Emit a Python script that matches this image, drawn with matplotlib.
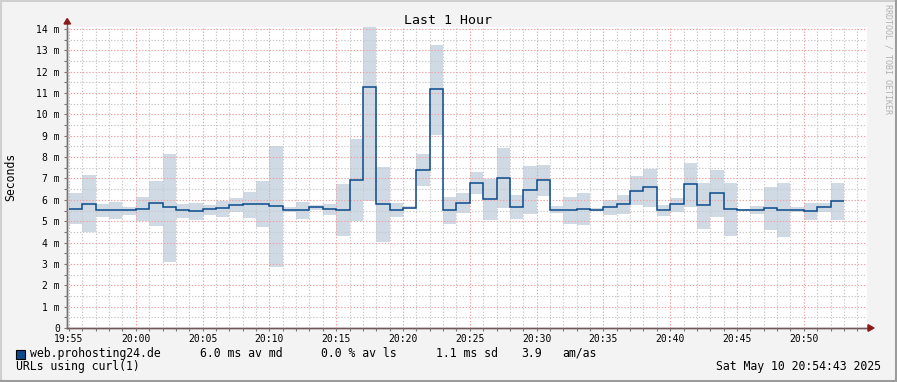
import numpy as np
import matplotlib
matplotlib.use("Agg")
import matplotlib.pyplot as plt
from matplotlib.patches import Rectangle, Polygon

# ---- data (minutes after 19:55, one value per minute) ----
median = [5.59, 5.79, 5.51, 5.51, 5.51, 5.56, 5.84, 5.65, 5.51, 5.46,
          5.56, 5.60, 5.74, 5.79, 5.79, 5.71, 5.52, 5.51, 5.65, 5.56,
          5.51, 6.91, 11.27, 5.80, 5.51, 5.62, 7.38, 11.17, 5.51, 5.85,
          6.77, 6.02, 7.01, 5.65, 6.45, 6.91, 5.51, 5.51, 5.56, 5.51,
          5.65, 5.80, 6.40, 6.59, 5.51, 5.79, 6.73, 5.74, 6.30, 5.56,
          5.51, 5.51, 5.60, 5.51, 5.51, 5.46, 5.65, 5.93]
smoke_hi = [6.31, 7.15, 5.80, 5.90, 5.66, 6.13, 6.88, 8.15, 5.80, 5.85,
            5.74, 5.95, 6.09, 6.37, 6.88, 8.52, 5.66, 5.90, 5.74, 5.80,
            6.76, 8.85, 14.09, 7.54, 5.85, 5.70, 8.15, 13.25, 6.13, 6.32,
            7.30, 6.98, 8.43, 6.23, 7.58, 7.63, 5.71, 6.13, 6.32, 5.62,
            5.98, 6.23, 7.12, 7.46, 5.76, 6.09, 7.72, 6.79, 7.40, 6.79,
            5.56, 5.71, 6.60, 6.79, 5.66, 5.85, 5.85, 6.79]
smoke_lo = [4.88, 4.48, 5.21, 5.12, 5.30, 4.99, 4.79, 3.09, 5.15, 5.06,
            5.30, 5.21, 5.42, 5.15, 4.74, 2.87, 5.42, 5.12, 5.52, 5.30,
            4.32, 4.99, 5.96, 4.04, 5.21, 5.58, 6.66, 9.04, 4.88, 5.37,
            6.29, 5.07, 5.62, 5.12, 5.35, 6.18, 5.37, 4.88, 4.82, 5.46,
            5.30, 5.35, 5.74, 5.66, 5.26, 5.45, 5.68, 4.65, 5.21, 4.32,
            5.46, 5.32, 4.57, 4.28, 5.42, 5.06, 5.42, 5.07]
xtick_labels = ["19:55", "20:00", "20:05", "20:10", "20:15", "20:20",
                "20:25", "20:30", "20:35", "20:40", "20:45", "20:50"]
ytick_labels = ["0"] + [f"{i} m" for i in range(1, 15)]

W, H = 897, 382
FONT = "DejaVu Sans Mono"
plt.rcParams['font.family'] = [FONT]

fig = plt.figure(figsize=(W / 100, H / 100), dpi=100, facecolor="#f3f3f3")

def fx(px):
    return px / W

def fy(py):
    return 1 - py / H

# frame
fig.patches.append(Rectangle((0, 0), 1, 1, transform=fig.transFigure,
                             fill=False, lw=0, zorder=0))
fig.add_artist(plt.Line2D([0, 1], [fy(0.8), fy(0.8)], color="#cfcfcf", lw=1.5))
fig.add_artist(plt.Line2D([fx(0.8), fx(0.8)], [0, 1], color="#cfcfcf", lw=1.5))
fig.add_artist(plt.Line2D([0, 1], [fy(381.2), fy(381.2)], color="#9c9c9c", lw=1.5))
fig.add_artist(plt.Line2D([fx(896.2), fx(896.2)], [0, 1], color="#9c9c9c", lw=1.5))

left, right, top, bottom = 67, 867, 27, 328
ax = fig.add_axes([fx(left), fy(bottom), fx(right - left), fy(top) - fy(bottom)])
ax.set_facecolor("white")

n = len(median)
x = np.arange(n)
hi = np.array(smoke_hi)
lo = np.array(smoke_lo)
ax.bar(x, hi - lo, bottom=lo, width=1.0, align="edge", color="#cfdae5",
       linewidth=0, zorder=1)
ax.stairs(median, np.arange(n + 1), color="#0b4a8a", lw=1.1, zorder=4,
          baseline=None)

ax.set_xlim(-0.15, 59.73)
ax.set_ylim(0, 14.09)

# grids
ax.set_xticks(np.arange(0, 60, 5))
ax.set_xticks(np.arange(0, 60, 1), minor=True)
ax.set_yticks(np.arange(0, 15, 1))
ax.set_yticks(np.arange(0, 14.1, 0.5), minor=True)
ax.grid(which="minor", color="#c8c8c8", lw=0.8, ls=(0, (1.2, 1.6)), zorder=2)
ax.grid(which="major", color="#f0a0a0", lw=0.8, ls=(0, (1.2, 1.6)), zorder=3)
ax.set_axisbelow(False)

ax.set_xticklabels(xtick_labels, fontsize=7, family=FONT)
ax.set_yticklabels(ytick_labels, fontsize=7, family=FONT)
ax.tick_params(which="both", direction="out", length=2.2, width=0.8,
               color="#777777")
ax.tick_params(axis="x", which="major", pad=2.0)
ax.tick_params(axis="y", which="major", pad=3.0)

for s in ("top", "right"):
    ax.spines[s].set_visible(False)
ax.spines["left"].set_color("#707070")
ax.spines["bottom"].set_color("#705858")
ax.spines["left"].set_linewidth(1.0)
ax.spines["bottom"].set_linewidth(1.0)

# axis arrows
ax.add_artist(plt.Line2D([fx(left), fx(left)], [fy(bottom), fy(22)],
                         transform=fig.transFigure, color="#707070", lw=1.0,
                         clip_on=False))
ax.add_artist(plt.Line2D([fx(left), fx(870)], [fy(bottom), fy(bottom)],
                         transform=fig.transFigure, color="#705858", lw=1.0,
                         clip_on=False))
fig.add_artist(Polygon([[fx(64), fy(24)], [fx(70.5), fy(24)], [fx(67.2), fy(18.5)]],
                       closed=True, color="#8b1a1a", transform=fig.transFigure))
fig.add_artist(Polygon([[fx(868), fy(324.7)], [fx(868), fy(331.3)], [fx(874), fy(328)]],
                       closed=True, color="#8b1a1a", transform=fig.transFigure))

# texts
fig.text(fx(447.5), fy(24), "Last 1 Hour", ha="center", va="baseline",
         fontsize=9.5, color="#000000")
fig.text(fx(10.5), fy(177), "Seconds", ha="center", va="center",
         rotation=90, fontsize=8.3, color="#000000")
fig.text(fx(887.5), fy(4), "RRDTOOL / TOBI OETIKER", ha="center", va="top",
         rotation=270, fontsize=6, color="#b0b0b0")

fig.add_artist(Rectangle((fx(15.5), fy(358.5)), fx(9), fy(349.5) - fy(358.5),
                         facecolor="#0b4a8a", edgecolor="black", lw=0.8,
                         transform=fig.transFigure))
leg_parts = [(29.5, "web.prohosting24.de"), (199.5, "6.0 ms av md"),
             (321, "0.0 % av ls"), (436, "1.1 ms sd"),
             (521, "3.9"), (562.5, "am/as")]
for px, t in leg_parts:
    fig.text(fx(px), fy(357), t, ha="left", va="baseline", fontsize=8.3)
fig.text(fx(15.5), fy(370.3), "URLs using curl(1)", ha="left",
         va="baseline", fontsize=8.3)
fig.text(fx(880.5), fy(370.3), "Sat May 10 20:54:43 2025", ha="right",
         va="baseline", fontsize=8.3)

fig.savefig("out.png", dpi=100, facecolor=fig.get_facecolor())
